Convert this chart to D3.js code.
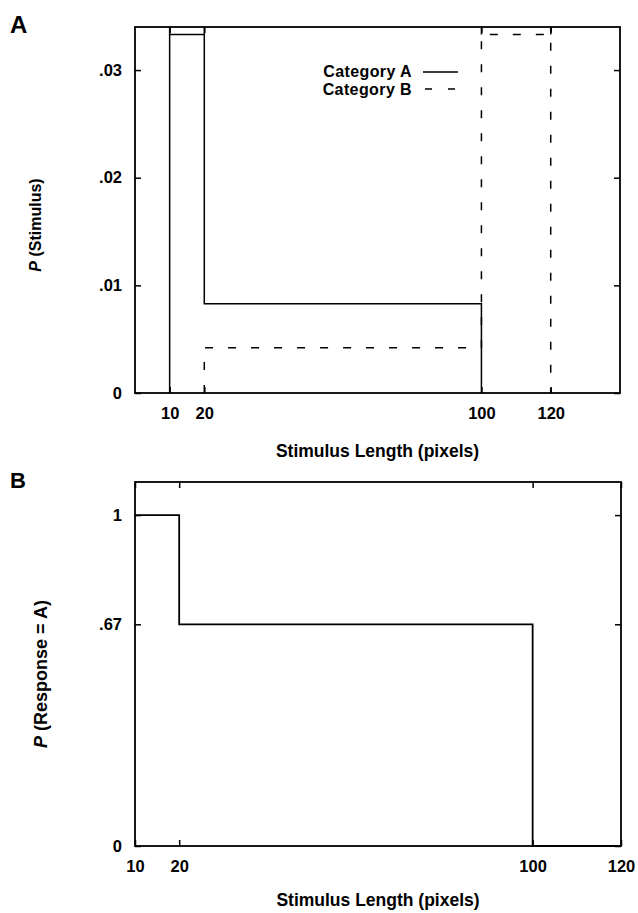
<!DOCTYPE html>
<html>
<head>
<meta charset="utf-8">
<script src="https://cdn.jsdelivr.net/npm/d3@7"></script>
<style>
  body { margin: 0; background: #fff; }
  svg text { font-family: "Liberation Sans", Arial, Helvetica, sans-serif; font-weight: bold; fill: #000; }
</style>
</head>
<body>
<svg id="chart" width="638" height="913"></svg>
<script>
// panel A: stimulus distributions (bin edges + probability per pixel)
var edgesA = [10, 20, 100];
var probA = [0.0333, 0.0083];
var edgesB = [20, 100, 120];
var probB = [0.0042, 0.0333];
var ticksAx = [10, 20, 100, 120];
var ticksAy = [0, 0.01, 0.02, 0.03];

// panel B: response probability
var edgesR = [10, 20, 100, 120];
var probR = [1, 0.67, 0];
var ticksBx = [10, 20, 100, 120];
var ticksBy = [0, 0.67, 1];

var svg = d3.select("#chart");

// integers as is, fractions without the leading zero
function fmt(d) { return Number.isInteger(d) ? String(d) : d3.format(".2f")(d).replace(/^0/, ""); }

// step path through bins; start from 0 unless told otherwise
function stepPts(edges, vals, startZero, endZero) {
  var p = [];
  if (startZero) p.push([edges[0], 0]);
  vals.forEach(function(v, i) { p.push([edges[i], v]); p.push([edges[i + 1], v]); });
  if (endZero) p.push([edges[edges.length - 1], 0]);
  return p;
}

function panel(o) {
  var x = d3.scaleLinear().domain(o.xDom).range([o.left, o.right]);
  var y = d3.scaleLinear().domain(o.yDom).range([o.bottom, o.top]);

  var g = svg.append("g");

  g.append("g").attr("transform", "translate(0," + o.bottom + ")")
    .call(d3.axisBottom(x).tickValues(o.xt).tickFormat(fmt).tickSizeInner(-6).tickSizeOuter(0).tickPadding(14))
    .call(function(a) { a.select(".domain").remove(); a.selectAll("line").attr("stroke-width", 1.5); a.selectAll("text").style("font-size", "16.5px").attr("font-family", null); });
  g.append("g").attr("transform", "translate(0," + o.top + ")")
    .call(d3.axisTop(x).tickValues(o.xt).tickFormat("").tickSizeInner(-6).tickSizeOuter(0))
    .call(function(a) { a.select(".domain").remove(); a.selectAll("line").attr("stroke-width", 1.5); });
  g.append("g").attr("transform", "translate(" + o.left + ",0)")
    .call(d3.axisLeft(y).tickValues(o.yt).tickFormat(fmt).tickSizeInner(-6).tickSizeOuter(0).tickPadding(13))
    .call(function(a) { a.select(".domain").remove(); a.selectAll("line").attr("stroke-width", 1.5); a.selectAll("text").style("font-size", "16.5px").attr("font-family", null); });
  g.append("g").attr("transform", "translate(" + o.right + ",0)")
    .call(d3.axisRight(y).tickValues(o.yt).tickFormat("").tickSizeInner(-6).tickSizeOuter(0))
    .call(function(a) { a.select(".domain").remove(); a.selectAll("line").attr("stroke-width", 1.5); });

  g.append("rect").attr("x", o.left).attr("y", o.top)
    .attr("width", o.right - o.left).attr("height", o.bottom - o.top)
    .attr("fill", "none").attr("stroke", "#000").attr("stroke-width", 1.8);

  g.append("text").attr("x", 10).attr("y", o.labelY).style("font-size", o.labelSize + "px").text(o.label);

  g.append("text").attr("x", (o.left + o.right) / 2).attr("y", o.xTitleY)
    .attr("text-anchor", "middle").style("font-size", "17.5px").text("Stimulus Length (pixels)");

  var yt = g.append("text").attr("transform", "translate(" + o.yTitleX + "," + o.yTitleMid + ") rotate(-90)")
    .attr("text-anchor", "middle").style("font-size", o.yTitleSize + "px");
  yt.append("tspan").style("font-style", "italic").text("P");
  yt.append("tspan").text(" " + o.yTitle);

  return { g: g, x: x, y: y };
}

var line = function(x, y) { return d3.line().x(function(d) { return x(d[0]); }).y(function(d) { return y(d[1]); }); };

// ---- panel A
var A = panel({ left: 135, right: 620, top: 27, bottom: 393, xDom: [0, 140], yDom: [0, 0.034],
  xt: ticksAx, yt: ticksAy, label: "A", labelY: 33, labelSize: 24, xTitleY: 457,
  yTitle: "(Stimulus)", yTitleX: 41, yTitleMid: 225, yTitleSize: 16 });

function drawDist(p, edges, vals, dash) {
  var yMax = p.y.domain()[1];
  var pts = stepPts(edges, vals, true, true);
  var pth = p.g.append("path").attr("d", line(p.x, p.y)(pts))
    .attr("fill", "none").attr("stroke", "#000").attr("stroke-width", 1.5);
  if (dash) pth.attr("stroke-dasharray", dash);
  // the tall bin's sides run on to the top of the frame
  var top = d3.max(vals);
  vals.forEach(function(v, i) {
    if (v !== top) return;
    [edges[i], edges[i + 1]].forEach(function(e) {
      var s = p.g.append("line").attr("x1", p.x(e)).attr("x2", p.x(e))
        .attr("y1", p.y(v)).attr("y2", p.y(yMax))
        .attr("stroke", "#000").attr("stroke-width", 1.5);
      if (dash) s.attr("stroke-dasharray", dash);
    });
  });
}
drawDist(A, edgesB, probB, "8,15");
drawDist(A, edgesA, probA, null);

// legend
var leg = A.g.append("g");
leg.append("text").attr("x", 412).attr("y", 77).attr("text-anchor", "end").style("font-size", "16px").style("letter-spacing", "0.4px").text("Category A");
leg.append("text").attr("x", 412).attr("y", 95).attr("text-anchor", "end").style("font-size", "16px").style("letter-spacing", "0.4px").text("Category B");
leg.append("line").attr("x1", 423).attr("x2", 458).attr("y1", 72).attr("y2", 72).attr("stroke", "#000").attr("stroke-width", 1.5);
leg.append("line").attr("x1", 425).attr("x2", 455).attr("y1", 89).attr("y2", 89).attr("stroke", "#000").attr("stroke-width", 1.5).attr("stroke-dasharray", "7,16");

// ---- panel B
var B = panel({ left: 135, right: 621, top: 482, bottom: 846, xDom: [10, 120], yDom: [0, 1.1],
  xt: ticksBx, yt: ticksBy, label: "B", labelY: 488, labelSize: 22, xTitleY: 906,
  yTitle: "(Response = A)", yTitleX: 47, yTitleMid: 674, yTitleSize: 18 });

B.g.append("path").attr("d", line(B.x, B.y)(stepPts(edgesR, probR, false, false)))
  .attr("fill", "none").attr("stroke", "#000").attr("stroke-width", 1.8);
</script>
</body>
</html>
